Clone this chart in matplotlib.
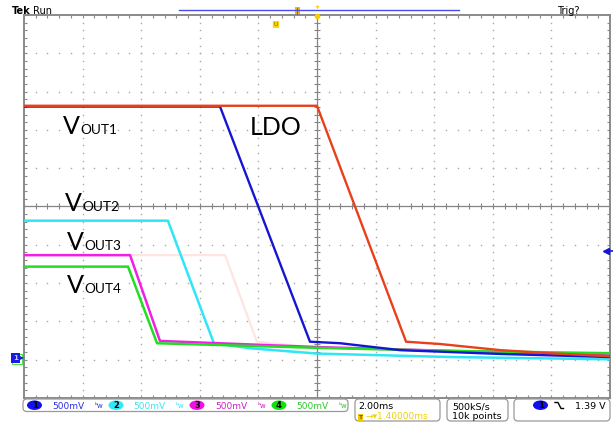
import matplotlib
matplotlib.use('Agg')
import matplotlib.pyplot as plt
from matplotlib.patches import FancyBboxPatch, Ellipse, Rectangle
import numpy as np

# ---------------- data (time in ms, voltage in V) ----------------
time_ldo = [-10.0, 0.0, 3.04, 4.20, 5.22, 6.25, 7.95, 10.0]
v_ldo = [3.28, 3.28, 0.20, 0.17, 0.13, 0.09, 0.05, 0.01]

time_vout1 = [-10.0, -3.31, -0.24, 0.79, 2.83, 6.25, 10.0]
v_vout1 = [3.27, 3.27, 0.20, 0.18, 0.09, 0.04, 0.00]

time_vout2 = [-10.0, -5.09, -3.52, -2.30, 0.0, 4.54, 10.0]
v_vout2 = [1.78, 1.78, 0.18, 0.115, 0.045, 0.00, -0.03]

time_vout3 = [-10.0, -6.38, -5.36, 0.0, 10.0]
v_vout3 = [1.33, 1.33, 0.21, 0.13, 0.02]

time_vout4 = [-10.0, -6.45, -5.46, 0.0, 4.54, 10.0]
v_vout4 = [1.18, 1.18, 0.18, 0.12, 0.08, 0.05]

time_ref = [-10.0, -3.14, -2.05, 0.0, 10.0]
v_ref = [1.33, 1.33, 0.20, 0.12, 0.02]

labels = ["1", "2", "3", "4"]
scales = ["500mV", "500mV", "500mV", "500mV"]
timebase = "2.00ms"
delay = "1.40000ms"
sample_rate = "500kS/s"
record = "10k points"
trig_level = 1.39

# ---------------- scope geometry ----------------
T_DIV = 2.0      # ms/div
V_DIV = 0.5      # V/div
GND_DIV = -3.93  # ground marker position (div)
xlim = (-5 * T_DIV, 5 * T_DIV)
ylim = ((-5 - GND_DIV) * V_DIV, (5 - GND_DIV) * V_DIV)

W, H = 613, 424
fig = plt.figure(figsize=(W / 100, H / 100), dpi=100)
fig.patch.set_facecolor('white')
ax = fig.add_axes([24 / W, 1 - 398 / H, (610 - 24) / W, (398 - 15) / H])
ax.set_xlim(*xlim)
ax.set_ylim(*ylim)
ax.set_facecolor('white')

grid_c = '#a8a8a8'
border_c = '#8a8a8a'
for s in ax.spines.values():
    s.set_color(border_c)
    s.set_linewidth(1.4)

xmaj = [xlim[0] + i * T_DIV for i in range(11)]
ymaj = [ylim[0] + j * V_DIV for j in range(11)]
xmin = [xlim[0] + i * T_DIV / 5 for i in range(51)]
ymin = [ylim[0] + j * V_DIV / 5 for j in range(51)]
xc = xmaj[5]
yc = ymaj[5]

ax.set_xticks(xmin)
ax.set_yticks(ymin)
ax.tick_params(which='both', direction='in', length=2.5, width=0.8, color=border_c,
               top=True, right=True, labelbottom=False, labelleft=False)

# dotted grid
for xv in xmaj[1:-1]:
    if xv == xc:
        continue
    ax.plot([xv] * len(ymin), ymin, ls='none', marker='s', ms=1.0, mew=0,
            color=grid_c, zorder=1)
for yv in ymaj[1:-1]:
    if yv == yc:
        continue
    ax.plot(xmin, [yv] * len(xmin), ls='none', marker='s', ms=1.0, mew=0,
            color=grid_c, zorder=1)

# center crosshair with ticks
ax.axvline(xc, color='#858585', lw=0.9, zorder=1)
ax.axhline(yc, color='#858585', lw=0.9, zorder=1)
ax.plot(xmin, [yc] * len(xmin), ls='none', marker='|', ms=4, mew=0.8,
        color='#858585', zorder=1)
ax.plot([xc] * len(ymin), ymin, ls='none', marker='_', ms=4, mew=0.8,
        color='#858585', zorder=1)

# traces
c_red = '#e8401c'
c_blue = '#1616d2'
c_cyan = '#2ee6f6'
c_mag = '#f020e4'
c_green = '#22de22'
c_ref = '#fde6e1'
ax.plot(time_ref, v_ref, color=c_ref, lw=1.6, zorder=2)
ax.plot(time_vout2, v_vout2, color=c_cyan, lw=1.8, zorder=3)
ax.plot(time_vout3, v_vout3, color=c_mag, lw=1.8, zorder=4)
ax.plot(time_vout4, v_vout4, color=c_green, lw=1.8, zorder=5)
ax.plot(time_vout1, v_vout1, color=c_blue, lw=1.7, zorder=6)
ax.plot(time_ldo, v_ldo, color=c_red, lw=1.7, zorder=7)

# trigger level marker on right
ax.plot([xlim[1] - 0.12], [trig_level], marker='<', ms=5, color=c_blue,
        clip_on=False, zorder=8)
ax.plot([xlim[1] - 0.1, xlim[1] + 0.15], [trig_level, trig_level], color=c_blue,
        lw=1.2, clip_on=False, zorder=8)

# ---------------- overlay in pixel coordinates ----------------
ov = fig.add_axes([0, 0, 1, 1], zorder=10)
ov.set_xlim(0, W)
ov.set_ylim(H, 0)
ov.axis('off')
ov.patch.set_alpha(0)

lab_font = ['Lato', 'DejaVu Sans']


def vlabel(x, y, sub):
    ov.text(x, y, 'V', fontsize=18, family=lab_font, va='baseline', ha='left')
    ov.text(x + 17.5, y, sub, fontsize=9.8, family=lab_font, va='baseline', ha='left')


vlabel(63, 134, 'OUT1')
vlabel(65, 211, 'OUT2')
vlabel(67, 250, 'OUT3')
vlabel(67, 293, 'OUT4')
ov.text(250, 135, 'LDO', fontsize=18, family=lab_font, va='baseline', ha='left')

# header
ov.text(12, 14, 'Tek', fontsize=7, fontweight='bold', va='baseline', ha='left')
ov.text(33, 14, 'Run', fontsize=7, va='baseline', ha='left')
ov.text(557, 14, 'Trig?', fontsize=7, va='baseline', ha='left')
ov.plot([179, 459], [10, 10], color='#4a4af0', lw=1.0)
ov.add_patch(Rectangle((294.5, 7), 5, 7, fc='#f2b400', ec='none'))
ov.plot([297, 297], [7.5, 13.5], color='#8a6000', lw=0.6)
ov.plot([317], [6.5], marker='v', ms=2.5, color='#f5d000', mew=0)
ov.plot([317], [16], marker='o', ms=4, color='#f5d000', mew=0)
ov.text(276, 24.5, 'U', fontsize=4.5, color='#8a6a00', ha='center', va='center',
        bbox=dict(boxstyle='round,pad=0.15', fc='#f8d800', ec='none'))

# ground marker
ov.add_patch(Rectangle((11.5, 353.5), 10, 10.5, fc='none', ec=c_green, lw=0.6))
ov.text(15.5, 358, '1', fontsize=5, color='#c8c8ff', ha='center', va='center',
        fontweight='bold',
        bbox=dict(boxstyle='square,pad=0.25', fc='#1a1ae0', ec='none'))
ov.plot([20.5], [358], marker='>', ms=4, color='#1a1ae0', mew=0)

# ---------------- status bar ----------------
box_c = '#9a9a9a'


def rbox(x0, y0, x1, y1):
    ov.add_patch(FancyBboxPatch((x0, y0), x1 - x0, y1 - y0,
                                boxstyle='round,pad=0,rounding_size=4',
                                fc='white', ec=box_c, lw=0.9))


rbox(23, 399, 348, 411.5)
rbox(355, 399, 440, 421)
rbox(447, 399, 508, 421)
rbox(514, 399, 610, 421)

ch_fill = ['#1010f0', '#30e8f8', '#f010e0', '#10e010']
ch_text = ['#3030e0', '#40e4f4', '#d020c8', '#30c830']
ell_x = [34.5, 116, 197, 279]
txt_x = [52, 133, 215, 296]
sym_x = [99, 180, 262, 343]
for k in range(4):
    ov.add_patch(Ellipse((ell_x[k], 405.2), 15, 9.5, fc=ch_fill[k], ec='none'))
    ov.text(ell_x[k], 405.6, labels[k], fontsize=6, ha='center', va='center',
            color='black', fontweight='bold')
    ov.text(txt_x[k], 409, scales[k], fontsize=6.5, color=ch_text[k],
            va='baseline', ha='left')
    ov.text(sym_x[k], 407.5, 'ᵇw', fontsize=5, color=ch_text[k],
            va='baseline', ha='center')

ov.text(358, 409, timebase, fontsize=6.8, va='baseline', ha='left')
ov.text(360.5, 417.5, 'T', fontsize=4.2, color='#7a5a00', ha='center', va='center',
        fontweight='bold',
        bbox=dict(boxstyle='square,pad=0.1', fc='#f0c800', ec='none'))
ov.text(365, 419, '→▾' + delay, fontsize=6.5, color='#f0d000',
        va='baseline', ha='left')
ov.text(452, 409, sample_rate, fontsize=6.8, va='baseline', ha='left')
ov.text(452, 419, record, fontsize=6.8, va='baseline', ha='left')

ov.add_patch(Ellipse((540.5, 405.2), 15, 9.5, fc=ch_fill[0], ec='none'))
ov.text(540.5, 405.6, labels[0], fontsize=6, ha='center', va='center',
        color='black', fontweight='bold')
ov.plot([555, 558, 561, 563.5], [402.5, 402.5, 408.5, 408.5], color='black', lw=1.0)
ov.text(606, 409, f'{trig_level:.2f} V', fontsize=6.8, va='baseline', ha='right')

fig.savefig('out.png', dpi=100)
